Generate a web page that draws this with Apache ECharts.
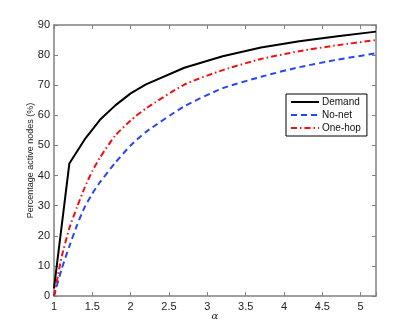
<!DOCTYPE html>
<html>
<head>
<meta charset="utf-8">
<script src="https://cdn.jsdelivr.net/npm/echarts@6/dist/echarts.min.js"></script>
<style>
  html, body { margin: 0; padding: 0; background: #fff; }
  #chart { width: 415px; height: 333px; }
</style>
</head>
<body>
<div id="chart"></div>
<script>
// alpha values and percentages
const demandAlpha = [1, 1.2, 1.4, 1.6, 1.8, 2, 2.2, 2.7, 3.2, 3.7, 4.2, 4.7, 5.2];
const demand = [2.5, 44, 52, 58.5, 63.3, 67.3, 70.3, 75.8, 79.6, 82.5, 84.6, 86.3, 87.8];

const otherAlpha = [1, 1.1, 1.2, 1.3, 1.4, 1.5, 1.6, 1.8, 2, 2.2, 2.7, 3.2, 3.7, 4.2, 4.7, 5.2];
const noNet = [0, 9, 16.5, 23.5, 29.5, 34, 37.8, 44.3, 50, 54.5, 63, 69, 72.8, 76, 78.5, 80.6];
const oneHop = [0, 13, 22.5, 29.5, 36, 41.5, 46, 53.3, 58.3, 62.3, 70.2, 75, 78.7, 81.3, 83.3, 85];

const seriesNames = ["Demand", "No-net", "One-hop"];

const pairs = (xs, ys) => xs.map((x, i) => [x, ys[i]]);

const font = "Liberation Sans, Arial, sans-serif";
const axisGrey = "#808080";

const myChart = echarts.init(document.getElementById("chart"), null, { renderer: "canvas" });

const baseX = {
  type: "value",
  min: 1,
  max: 5.2,
  interval: 0.5,
  axisLine: { show: true, onZero: false, lineStyle: { color: axisGrey, width: 1.5 } },
  axisTick: { show: true, inside: true, length: 4, lineStyle: { color: axisGrey } },
  splitLine: { show: false },
};
const baseY = {
  type: "value",
  min: 0,
  max: 90,
  interval: 10,
  axisLine: { show: true, onZero: false, lineStyle: { color: axisGrey, width: 1.5 } },
  axisTick: { show: true, inside: true, length: 4, lineStyle: { color: axisGrey } },
  splitLine: { show: false },
};

const option = {
  animation: false,
  grid: { left: 54, right: 39, top: 25, bottom: 37 },
  xAxis: [
    {
      ...baseX,
      position: "bottom",
      name: "α",
      nameLocation: "middle",
      nameGap: 15,
      nameMoveOverlap: false,
      nameTextStyle: { fontFamily: "DejaVu Serif, serif", fontStyle: "italic", fontSize: 10, color: "#222" },
      axisLabel: {
        margin: 5,
        fontFamily: font,
        fontSize: 11,
        color: "#222",
        formatter: (v) => (Math.abs(v * 2 - Math.round(v * 2)) < 1e-6 ? String(v) : ""),
      },
    },
    { ...baseX, position: "top", axisLabel: { show: false } },
  ],
  yAxis: [
    {
      ...baseY,
      position: "left",
      name: "Percentage active nodes (%)",
      nameLocation: "middle",
      nameGap: 19,
      nameMoveOverlap: false,
      nameTextStyle: { fontFamily: font, fontSize: 9, color: "#222" },
      axisLabel: { margin: 4, fontFamily: font, fontSize: 11, color: "#222" },
    },
    { ...baseY, position: "right", axisLabel: { show: false } },
  ],
  legend: {
    data: seriesNames,
    orient: "vertical",
    left: 286,
    top: 94,
    itemWidth: 28,
    itemHeight: 8,
    itemGap: 3,
    padding: [3, 6, 3, 4],
    borderColor: "#000",
    borderWidth: 1,
    backgroundColor: "#fff",
    itemStyle: { opacity: 0 },
    textStyle: { fontFamily: font, fontSize: 10, color: "#111", padding: [0, 0, 0, -2] },
  },
  series: [
    {
      name: seriesNames[0],
      type: "line",
      data: pairs(demandAlpha, demand),
      showSymbol: false,
      symbol: "none",
      color: "#000",
      lineStyle: { color: "#000", width: 2 },
      z: 3,
    },
    {
      name: seriesNames[1],
      type: "line",
      data: pairs(otherAlpha, noNet),
      showSymbol: false,
      symbol: "none",
      smooth: 0.2,
      color: "#2846f5",
      lineStyle: { color: "#2846f5", width: 2, type: [6, 4] },
    },
    {
      name: seriesNames[2],
      type: "line",
      data: pairs(otherAlpha, oneHop),
      showSymbol: false,
      symbol: "none",
      smooth: 0.2,
      color: "#f01010",
      lineStyle: { color: "#f01010", width: 2, type: [6, 3, 1.5, 3] },
    },
  ],
};

myChart.setOption(option);
</script>
</body>
</html>
